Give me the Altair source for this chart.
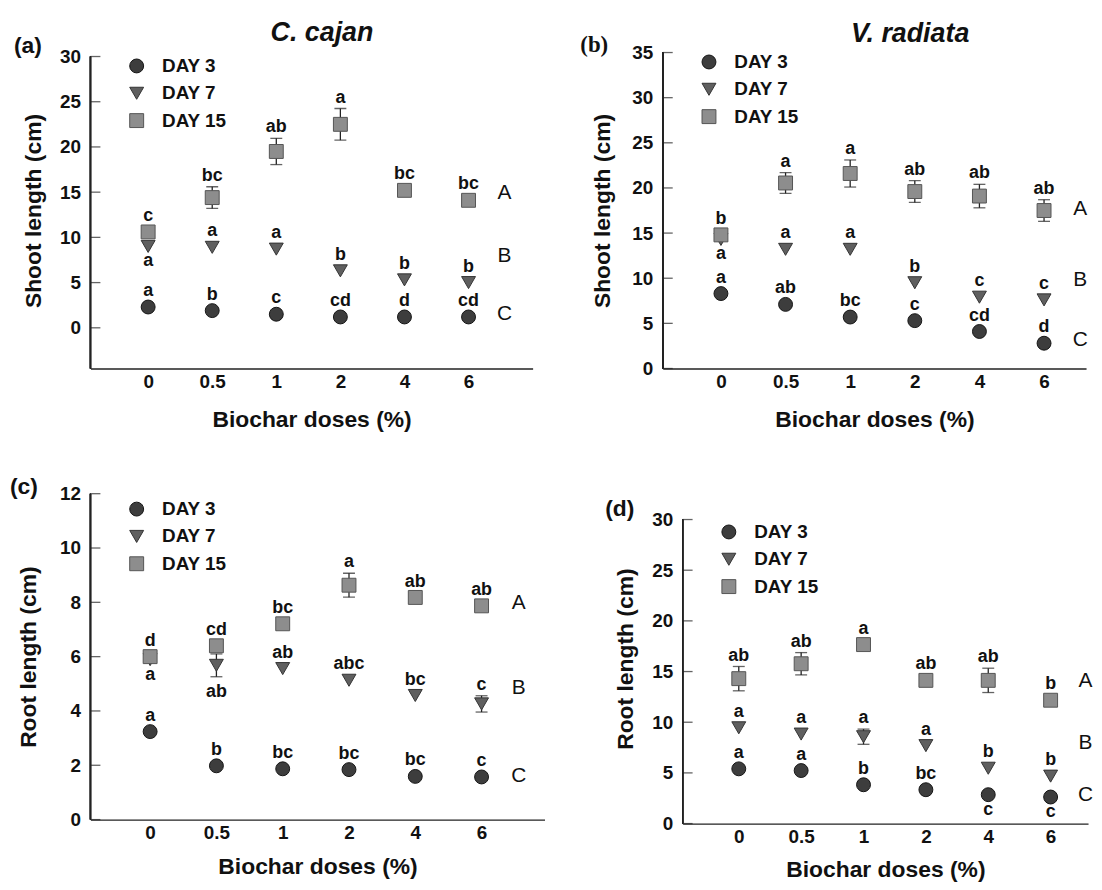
import altair as alt
import pandas as pd

doses = ["0", "0.5", "1", "2", "4", "6"]
days = ["DAY 3", "DAY 7", "DAY 15"]
shapes = ["circle", "triangle-down", "square"]
fills = ["#3d3d3d", "#5f5f5f", "#8d8d8d"]
strokes = ["#151515", "#333333", "#555555"]
groups = ["A", "B", "C"]

# (a) C. cajan - shoot length
a_day3 = [2.3, 1.9, 1.5, 1.2, 1.2, 1.2]
a_day7 = [9.0, 8.9, 8.7, 6.3, 5.3, 5.0]
a_day15 = [10.6, 14.4, 19.5, 22.5, 15.2, 14.1]
a_err3 = [0, 0, 0, 0, 0, 0]
a_err7 = [0, 0, 0, 0, 0, 0]
a_err15 = [0, 1.2, 1.45, 1.75, 0, 0]
a_let3 = ["a", "b", "c", "cd", "d", "cd"]
a_let7 = ["a", "a", "a", "b", "b", "b"]
a_let15 = ["c", "bc", "ab", "a", "bc", "bc"]
a_below = [("DAY 7", 0)]
a_group_y = [14.9, 7.9, 1.5]

# (b) V. radiata - shoot length
b_day3 = [8.3, 7.1, 5.7, 5.3, 4.1, 2.8]
b_day7 = [14.3, 13.2, 13.2, 9.5, 7.9, 7.6]
b_day15 = [14.8, 20.55, 21.6, 19.6, 19.1, 17.5]
b_err3 = [0, 0, 0, 0, 0, 0]
b_err7 = [0, 0, 0, 0, 0, 0]
b_err15 = [0, 1.15, 1.5, 1.2, 1.3, 1.2]
b_let3 = ["a", "ab", "bc", "c", "cd", "d"]
b_let7 = ["a", "a", "a", "b", "c", "c"]
b_let15 = ["b", "a", "a", "ab", "ab", "ab"]
b_below = [("DAY 7", 0)]
b_group_y = [17.7, 9.8, 3.2]

# (c) C. cajan - root length
c_day3 = [3.24, 1.98, 1.87, 1.84, 1.59, 1.57]
c_day7 = [5.89, 5.68, 5.56, 5.13, 4.57, 4.26]
c_day15 = [6.0, 6.4, 7.21, 8.63, 8.18, 7.87]
c_err3 = [0, 0, 0, 0, 0, 0]
c_err7 = [0, 0.42, 0, 0, 0, 0.3]
c_err15 = [0, 0, 0, 0.44, 0, 0]
c_let3 = ["a", "b", "bc", "bc", "bc", "c"]
c_let7 = ["a", "ab", "ab", "abc", "bc", "c"]
c_let15 = ["d", "cd", "bc", "a", "ab", "ab"]
c_below = [("DAY 7", 0), ("DAY 7", 1)]
c_group_y = [7.98, 4.86, 1.59]

# (d) V. radiata - root length
d_day3 = [5.4, 5.23, 3.83, 3.34, 2.85, 2.62]
d_day7 = [9.45, 8.83, 8.57, 7.69, 5.46, 4.68]
d_day15 = [14.3, 15.77, 17.66, 14.13, 14.13, 12.17]
d_err3 = [0, 0, 0, 0, 0, 0]
d_err7 = [0, 0, 0.75, 0, 0, 0]
d_err15 = [1.2, 1.1, 0, 0, 1.2, 0]
d_let3 = ["a", "a", "b", "bc", "c", "c"]
d_let7 = ["a", "a", "a", "a", "b", "b"]
d_let15 = ["ab", "ab", "a", "ab", "ab", "b"]
d_below = [("DAY 3", 4), ("DAY 3", 5)]
d_group_y = [14.1, 7.9, 2.8]

FONT = "Liberation Sans"
INK = "#111111"
label_expr = "[" + ",".join("'%s'" % d for d in doses) + "][datum.value]"


def panel(p):
    rows = []
    for day, vals, errs, lets in zip(days, p["vals"], p["errs"], p["lets"]):
        for i, (v, e, l) in enumerate(zip(vals, errs, lets)):
            rows.append({"i": i, "day": day, "value": v, "err": e,
                         "lo": v - e, "hi": v + e, "letter": l,
                         "below": (day, i) in p["below"]})
    df = pd.DataFrame(rows)

    ydom = p["ydom"]
    xscale = alt.Scale(domain=[-0.9, p["xmax"]], nice=False, zero=False)
    yscale = alt.Scale(domain=ydom, nice=False, zero=False)
    axis_style = dict(grid=False, ticks=False, domainColor="#222", domainWidth=1.3,
                      labelFont=FONT, labelFontSize=19, labelFontWeight="bold",
                      labelColor=INK, titleFont=FONT, titleFontSize=23,
                      titleFontWeight="bold", titleColor=INK)
    xaxis = alt.Axis(values=list(range(6)), labelExpr=label_expr,
                     title="Biochar doses (%)", labelPadding=4,
                     titlePadding=p["xtp"], labelAngle=0, **axis_style)
    yaxis = alt.Axis(values=p["yticks"], title=p["ytitle"], labelPadding=10,
                     titlePadding=p["ytp"], domain=False, **axis_style)

    def X(f):
        return alt.X(f"{f}:Q", scale=xscale, axis=xaxis)

    def Y(f):
        return alt.Y(f"{f}:Q", scale=yscale, axis=yaxis)

    leg = alt.Legend(orient="none", legendX=37, legendY=p["legy"], title=None,
                     direction="vertical", labelFont=FONT, labelFontSize=19,
                     labelFontWeight="bold", labelColor=INK, symbolSize=196,
                     symbolStrokeWidth=1, labelOffset=16, rowPadding=7.5,
                     padding=0)

    base = alt.Chart(df)
    tick_df = pd.DataFrame({"v": p["yticks"]})
    ticks = alt.Chart(tick_df).mark_tick(
        orient="horizontal", size=10, thickness=1.3, color="#222"
    ).encode(x=alt.value(5), y=Y("v"))
    yline = alt.Chart(tick_df).mark_rule(color="#222", strokeWidth=1.3).encode(
        x=alt.value(0), y=alt.datum(ydom[0]), y2=alt.datum(max(p["yticks"])))

    eb = base.transform_filter("datum.err > 0")
    ebar = eb.mark_rule(color="#222", strokeWidth=1.3).encode(
        x=X("i"), y=Y("lo"), y2="hi")
    cap_hi = eb.mark_tick(orient="horizontal", size=12, thickness=1.3,
                          color="#222").encode(x=X("i"), y=Y("hi"))
    cap_lo = eb.mark_tick(orient="horizontal", size=12, thickness=1.3,
                          color="#222").encode(x=X("i"), y=Y("lo"))

    pts = base.mark_point(filled=True, size=196, strokeWidth=1, opacity=1).encode(
        x=X("i"), y=Y("value"),
        shape=alt.Shape("day:N", scale=alt.Scale(domain=days, range=shapes), legend=leg),
        fill=alt.Fill("day:N", scale=alt.Scale(domain=days, range=fills), legend=leg),
        stroke=alt.Stroke("day:N", scale=alt.Scale(domain=days, range=strokes), legend=leg),
    )

    tf = dict(font=FONT, fontWeight="bold", fontSize=18, color=INK,
              baseline="alphabetic", align="center")
    lab_up_err = base.transform_filter("!datum.below && datum.err > 0").mark_text(
        dy=-6, **tf).encode(x=X("i"), y=Y("hi"), text="letter:N")
    lab_up = base.transform_filter("!datum.below && datum.err == 0").mark_text(
        dy=-11, **tf).encode(x=X("i"), y=Y("value"), text="letter:N")
    lab_dn = base.transform_filter("datum.below").mark_text(
        dy=20, **tf).encode(x=X("i"), y=Y("lo"), text="letter:N")

    grp = alt.Chart(pd.DataFrame({"g": groups, "gy": p["group_y"]})).mark_text(
        font=FONT, fontSize=21, color=INK, baseline="middle", align="center"
    ).encode(x=alt.datum(5.56), y=Y("gy"), text="g:N")

    tag = alt.Chart(pd.DataFrame({"t": [p["tag"]]})).mark_text(
        font=p["tagfont"], fontWeight="bold", fontSize=23, color=INK,
        align="left", baseline="alphabetic"
    ).encode(x=alt.value(p["tagx"]), y=alt.value(p["tagy"]), text="t:N")

    layers = [yline, ticks, ebar, cap_hi, cap_lo, pts, lab_up_err, lab_up, lab_dn, grp, tag]
    if p.get("title"):
        ttl = alt.Chart(pd.DataFrame({"t": [p["title"]]})).mark_text(
            font=FONT, fontWeight="bold", fontStyle="italic", fontSize=27,
            color=INK, align="center", baseline="alphabetic"
        ).encode(x=alt.value(p["titlex"]), y=alt.value(p["titley"]), text="t:N")
        layers.append(ttl)
    return alt.layer(*layers).properties(width=p["w"], height=p["h"])


pa = panel(dict(vals=[a_day3, a_day7, a_day15], errs=[a_err3, a_err7, a_err15],
                lets=[a_let3, a_let7, a_let15], below=a_below, group_y=a_group_y,
                xmax=6.0, w=445, h=318, ydom=[-4.5, 30.44], yticks=[0, 5, 10, 15, 20, 25, 30],
                ytitle="Shoot length (cm)", xtp=17, ytp=14, legy=4,
                tag="(a)", tagfont=FONT, tagx=-77, tagy=0,
                title="C. cajan", titlex=233, titley=-12))
pb = panel(dict(vals=[b_day3, b_day7, b_day15], errs=[b_err3, b_err7, b_err15],
                lets=[b_let3, b_let7, b_let15], below=b_below, group_y=b_group_y,
                xmax=5.65, w=426, h=318, ydom=[0, 35], yticks=[0, 5, 10, 15, 20, 25, 30, 35],
                ytitle="Shoot length (cm)", xtp=17, ytp=17, legy=0,
                tag="(b)", tagfont="Liberation Serif", tagx=-83, tagy=-1,
                title="V. radiata", titlex=249, titley=-11))
pc = panel(dict(vals=[c_day3, c_day7, c_day15], errs=[c_err3, c_err7, c_err15],
                lets=[c_let3, c_let7, c_let15], below=c_below, group_y=c_group_y,
                xmax=5.95, w=457, h=328, ydom=[0, 12], yticks=[0, 2, 4, 6, 8, 10, 12],
                ytitle="Root length (cm)", xtp=13, ytp=19, legy=6,
                tag="(c)", tagfont=FONT, tagx=-81, tagy=0))
pd_ = panel(dict(vals=[d_day3, d_day7, d_day15], errs=[d_err3, d_err7, d_err15],
                 lets=[d_let3, d_let7, d_let15], below=d_below, group_y=d_group_y,
                 xmax=5.6, w=408, h=332, ydom=[0, 32.55], yticks=[0, 5, 10, 15, 20, 25, 30],
                 ytitle="Root length (cm)", xtp=12, ytp=14, legy=29,
                 tag="(d)", tagfont=FONT, tagx=-78, tagy=22))

ind = dict(shape="independent", fill="independent", stroke="independent")
row1 = alt.hconcat(pa, pb, spacing=48).resolve_scale(**ind)
row2 = alt.hconcat(pc, pd_, spacing=61).resolve_scale(**ind)
chart = alt.vconcat(row1, row2, spacing=45).resolve_scale(**ind).properties(
    padding={"left": 2, "top": 8, "right": 0, "bottom": 0},
    background="white",
).configure_view(strokeWidth=0)

chart.save("out.html", embed_options={"renderer": "svg", "actions": False})
